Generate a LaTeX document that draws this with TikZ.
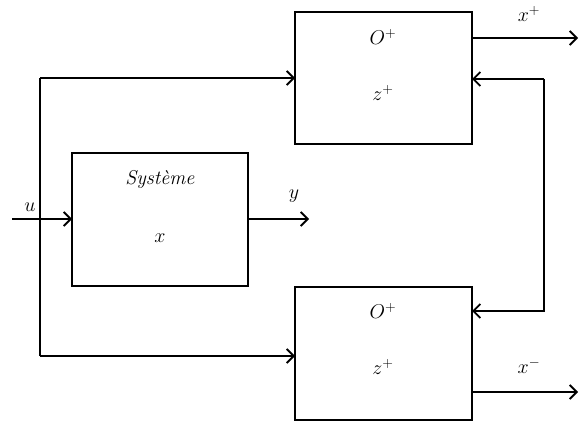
\documentclass[tikz,border=0pt]{standalone}
\usepackage{fix-cm}
\usetikzlibrary{arrows.meta}
\begin{document}
\begin{tikzpicture}[x=1pt,y=-1pt,
  blk/.style={draw,line width=1.8pt},
  conn/.style={line width=1.8pt,-{Straight Barb[length=7pt,width=14pt,line width=1.8pt]}},
  wire/.style={line width=1.8pt},
  lbl/.style={font=\fontsize{20}{24}\selectfont}]
\useasboundingbox (0,0) rectangle (579,425);
% boxes
\draw[blk] (72,153) rectangle (248,286);
\draw[blk] (295,12) rectangle (472,144);
\draw[blk] (295,287) rectangle (472,420);
\coordinate (sysW) at (72,219);
\coordinate (sysE) at (248,219);
\coordinate (topW) at (295,78);
\coordinate (topE1) at (472,38);
\coordinate (topE2) at (472,79);
\coordinate (botW) at (295,356);
\coordinate (botE1) at (472,311);
\coordinate (botE2) at (472,392);
\coordinate (uin) at (12,219);
\coordinate (yout) at (309,219);
\coordinate (xpout) at (578,38);
\coordinate (xmout) at (578,392);
\coordinate (fb) at (544,79);
\coordinate (fb2) at (544,311);
\coordinate (jt) at (40,78);
\coordinate (jb) at (40,356);
% texts
\node[lbl] (t1) at (160,180) {\textit{Système}};
\node[lbl] (t2) at (160,238) {$x$};
\node[lbl] (t3) at (383,37) {$O^{+}$};
\node[lbl] (t4) at (383,93) {$z^{+}$};
\node[lbl] (t5) at (383,311) {$O^{+}$};
\node[lbl] (t6) at (383,367) {$z^{+}$};
\node[lbl] (lu) at (30,207) {$u$};
\node[lbl] (ly) at (294,196) {$y$};
\node[lbl] (lxp) at (529,14) {$x^{+}$};
\node[lbl] (lxm) at (529,366) {$x^{-}$};
% connectors
\draw[conn] (uin) -- (sysW);
\draw[conn] (sysE) -- (yout);
\draw[wire] (jb) -- (jt);
\draw[conn] (jt) -- (topW);
\draw[conn] (jb) -- (botW);
\draw[conn] (topE1) -- (xpout);
\draw[conn] (botE2) -- (xmout);
\draw[conn] (fb) -- (topE2);
\draw[conn] (fb) -- (fb2) -- (botE1);
\end{tikzpicture}
\end{document}
